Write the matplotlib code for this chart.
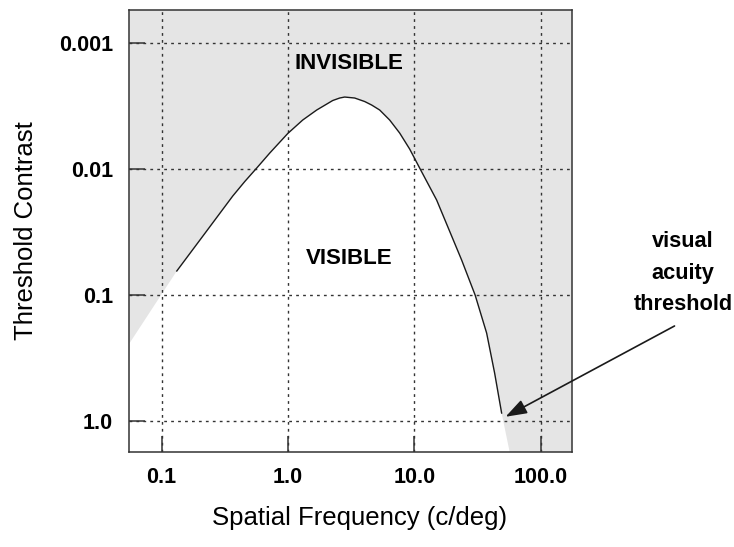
import numpy as np
import matplotlib
matplotlib.use("Agg")
import matplotlib.pyplot as plt

plt.rcParams['font.family'] = ['Liberation Sans', 'DejaVu Sans']

# Contrast sensitivity curve (spatial frequency in c/deg, threshold contrast)
freq = [0.1317, 0.2193, 0.3651, 0.4544, 0.5655, 0.7166, 0.9945, 1.307, 1.687,
        2.258, 2.564, 2.809, 3.371, 4.045, 4.594, 5.316, 6.377, 7.65, 9.18,
        11.01, 15.01, 23.67, 30.27, 37.33, 43.18, 49.06]
contrast = [0.0648, 0.03268, 0.01647, 0.01264, 0.00987, 0.00751, 0.005256,
            0.004107, 0.00342, 0.002875, 0.002747, 0.002698, 0.002747,
            0.002929, 0.003123, 0.00342, 0.004107, 0.005208, 0.006977,
            0.00987, 0.01772, 0.05303, 0.1006, 0.2014, 0.4181, 0.8687]

# Extrapolated boundary of the invisible region beyond the measured curve
left_ext = (0.0556, 0.243)
right_ext = (56.8, 1.77)

x_ticks = [0.1, 1.0, 10.0, 100.0]
x_ticklabels = ['0.1', '1.0', '10.0', '100.0']
y_ticks = [0.001, 0.01, 0.1, 1.0]
y_ticklabels = ['0.001', '0.01', '0.1', '1.0']

xlim = (0.0556, 176.0)
ylim = (1.77, 0.00055)  # inverted: low contrast at top

fig = plt.figure(figsize=(7.34, 5.47), dpi=100)
ax = fig.add_axes([0.1764, 0.1737, 0.6025, 0.808])
ax.set_xscale('log')
ax.set_yscale('log')
ax.set_xlim(*xlim)
ax.set_ylim(*ylim)

# Invisible (grey) region: everything above the boundary
bx = [left_ext[0]] + freq + [right_ext[0], xlim[1], xlim[1], xlim[0]]
by = [left_ext[1]] + contrast + [right_ext[1], ylim[0], ylim[1], ylim[1]]
ax.fill(bx, by, color='#e5e5e5', lw=0, zorder=0)

ax.plot(freq, contrast, color='#1a1a1a', lw=1.0, zorder=3,
        solid_joinstyle='round')

ax.set_xticks(x_ticks)
ax.set_xticklabels(x_ticklabels)
ax.set_yticks(y_ticks)
ax.set_yticklabels(y_ticklabels)
ax.minorticks_off()
ax.tick_params(axis='both', which='major', direction='in', length=11.5,
               width=1.1, color='#333333', labelsize=15.5)
ax.tick_params(axis='x', pad=10.5)
ax.tick_params(axis='y', pad=12)
for lab in ax.get_xticklabels() + ax.get_yticklabels():
    lab.set_fontweight('bold')

ax.grid(True, which='major', color='#333333', linestyle=(0, (2, 3)), lw=1.0)
ax.set_axisbelow(False)
for sp in ax.spines.values():
    sp.set_linewidth(1.1)
    sp.set_color('#333333')
    sp.set_zorder(5)

ax.set_xlabel('Spatial Frequency (c/deg)', fontsize=18.5, labelpad=13)
ax.xaxis.label.set_x(0.52)
ax.set_ylabel('Threshold Contrast', fontsize=18.5, labelpad=15)

ax.text(3.05, 0.00146, 'INVISIBLE', fontsize=16, fontweight='bold',
        ha='center', va='center', zorder=4)
ax.text(3.02, 0.0512, 'VISIBLE', fontsize=16, fontweight='bold',
        ha='center', va='center', zorder=4)

ax.annotate('', xy=(52.7, 0.93), xytext=(1146, 0.177),
            xycoords='data', textcoords='data', annotation_clip=False,
            arrowprops=dict(arrowstyle='-|>,head_length=1.3,head_width=0.45',
                            color='#1a1a1a', lw=1.2, shrinkA=0, shrinkB=0),
            zorder=6)
fig.text(683 / 734, 1 - 273 / 547, 'visual\nacuity\nthreshold', fontsize=15.7,
         fontweight='bold', ha='center', va='center', linespacing=1.66)

fig.savefig('out.png', dpi=100)
